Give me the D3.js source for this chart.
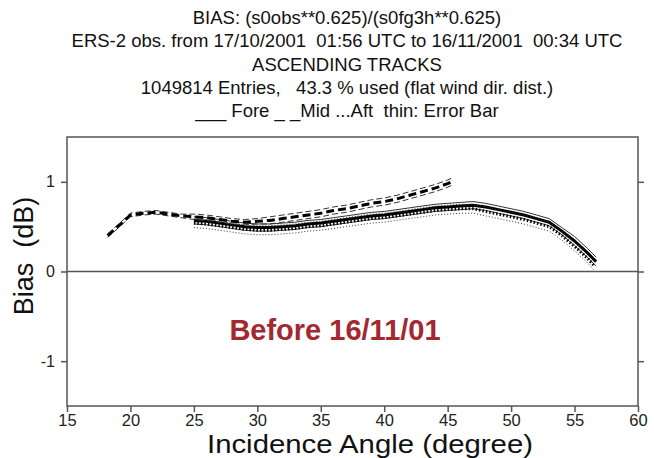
<!DOCTYPE html>
<html>
<head>
<meta charset="utf-8">
<script src="https://cdn.jsdelivr.net/npm/d3@7/dist/d3.min.js"></script>
<style>
  html, body { margin: 0; padding: 0; background: #fff; }
  svg { display: block; font-family: "Liberation Sans", Arial, Helvetica, sans-serif; }
</style>
</head>
<body>
<svg id="chart" width="654" height="458"></svg>
<script>
// Title block
const titleLines = [
  "BIAS: (s0obs**0.625)/(s0fg3h**0.625)",
  "ERS-2 obs. from 17/10/2001\u00a0\u00a001:56 UTC to 16/11/2001\u00a0\u00a000:34 UTC",
  "ASCENDING TRACKS",
  "1049814 Entries,\u00a0\u00a0\u00a043.3 % used (flat wind dir. dist.)",
  "___ Fore _ _Mid ...Aft\u00a0\u00a0thin: Error Bar"
];

// Axis ticks
const xTicks = [15, 20, 25, 30, 35, 40, 45, 50, 55, 60];
const yTicks = [-1, 0, 1];

// Fore beam (solid)
const foreAngle = [25, 26, 27, 28, 29, 30, 31, 32, 33, 34, 35, 36, 37, 38, 39, 40, 41, 42, 43, 44, 45, 46, 47, 48, 49, 50, 51, 52, 53, 54, 55, 56, 56.7];
const foreBias  = [0.57, 0.56, 0.54, 0.52, 0.50, 0.49, 0.49, 0.50, 0.51, 0.53, 0.54, 0.56, 0.58, 0.60, 0.62, 0.63, 0.65, 0.67, 0.69, 0.71, 0.72, 0.73, 0.74, 0.72, 0.69, 0.66, 0.63, 0.59, 0.55, 0.45, 0.34, 0.21, 0.11];
const foreErr   = [0.04, 0.04, 0.04, 0.04, 0.04, 0.04, 0.04, 0.04, 0.04, 0.04, 0.04, 0.04, 0.04, 0.04, 0.04, 0.04, 0.04, 0.04, 0.04, 0.04, 0.04, 0.04, 0.04, 0.04, 0.04, 0.04, 0.04, 0.04, 0.04, 0.04, 0.05, 0.05, 0.05];

// Mid beam (dashed)
const midAngle = [18.2, 19, 20, 21, 22, 23, 24, 25, 26, 27, 28, 29, 30, 31, 32, 33, 34, 35, 36, 37, 38, 39, 40, 41, 42, 43, 44, 45, 45.3];
const midBias  = [0.40, 0.50, 0.63, 0.65, 0.66, 0.64, 0.62, 0.61, 0.60, 0.58, 0.56, 0.55, 0.56, 0.57, 0.59, 0.61, 0.63, 0.65, 0.68, 0.70, 0.73, 0.76, 0.78, 0.81, 0.85, 0.89, 0.93, 0.98, 1.00];
const midErr   = [0.02, 0.02, 0.02, 0.02, 0.02, 0.02, 0.02, 0.03, 0.03, 0.03, 0.03, 0.03, 0.03, 0.04, 0.04, 0.04, 0.04, 0.04, 0.04, 0.04, 0.04, 0.04, 0.04, 0.04, 0.04, 0.04, 0.04, 0.04, 0.04];

// Aft beam (dotted)
const aftAngle = [25, 26, 27, 28, 29, 30, 31, 32, 33, 34, 35, 36, 37, 38, 39, 40, 41, 42, 43, 44, 45, 46, 47, 48, 49, 50, 51, 52, 53, 54, 55, 56, 56.5];
const aftBias  = [0.54, 0.53, 0.51, 0.49, 0.47, 0.46, 0.46, 0.47, 0.48, 0.50, 0.51, 0.53, 0.55, 0.57, 0.59, 0.60, 0.62, 0.64, 0.66, 0.68, 0.69, 0.70, 0.70, 0.67, 0.64, 0.61, 0.58, 0.54, 0.50, 0.40, 0.28, 0.15, 0.07];
const aftErr   = [0.05, 0.05, 0.05, 0.05, 0.05, 0.05, 0.05, 0.05, 0.05, 0.05, 0.05, 0.05, 0.05, 0.05, 0.05, 0.05, 0.05, 0.05, 0.05, 0.05, 0.05, 0.05, 0.05, 0.05, 0.05, 0.05, 0.05, 0.05, 0.05, 0.05, 0.05, 0.05, 0.05];

const svg = d3.select("#chart");
const frame = { left: 67, right: 638, top: 137, bottom: 406 };

const x = d3.scaleLinear().domain([15, 60]).range([frame.left, frame.right]);
const y = d3.scaleLinear().domain([-1.5, 1.5]).range([frame.bottom, frame.top]);

const axisColor = "#555";

// Titles
svg.append("g").selectAll("text").data(titleLines).join("text")
  .attr("x", 347)
  .attr("y", (d, i) => 24 + i * 23.3)
  .attr("text-anchor", "middle")
  .attr("font-size", 18.5)
  .attr("fill", "#111")
  .text(d => d);

// Zero line
svg.append("line")
  .attr("x1", x(15)).attr("x2", x(60))
  .attr("y1", y(0)).attr("y2", y(0))
  .attr("stroke", axisColor).attr("stroke-width", 1.5);

// Series: thick line for the mean bias, thin lines for the error bar
const series = [
  { a: foreAngle, b: foreBias, e: foreErr, dash: null, w: 3 },
  { a: midAngle,  b: midBias,  e: midErr,  dash: "8,4", thinDash: "6,3", w: 3 },
  { a: aftAngle,  b: aftBias,  e: aftErr,  dash: "1.5,2", thinDash: "1,2", w: 3 }
];

const line = d3.line().x(d => x(d[0])).y(d => y(d[1])).curve(d3.curveLinear);

const gLines = svg.append("g").attr("fill", "none").attr("stroke-linejoin", "round");
series.forEach(s => {
  const main = s.a.map((a, i) => [a, s.b[i]]);
  const up = s.a.map((a, i) => [a, s.b[i] + s.e[i]]);
  const lo = s.a.map((a, i) => [a, s.b[i] - s.e[i]]);
  [up, lo].forEach(pts => {
    gLines.append("path")
      .attr("d", line(pts))
      .attr("stroke", "#333")
      .attr("stroke-width", 1)
      .attr("stroke-dasharray", s.thinDash || s.dash);
  });
  gLines.append("path")
    .attr("d", line(main))
    .attr("stroke", "#000")
    .attr("stroke-width", s.w)
    .attr("stroke-dasharray", s.dash);
});

// Frame
svg.append("rect")
  .attr("x", frame.left).attr("y", frame.top)
  .attr("width", frame.right - frame.left).attr("height", frame.bottom - frame.top)
  .attr("fill", "none").attr("stroke", axisColor).attr("stroke-width", 1.5);

// Axes
const xAxis = svg.append("g")
  .attr("transform", `translate(0,${frame.bottom})`)
  .call(d3.axisBottom(x).tickValues(xTicks).tickSize(6).tickPadding(2).tickFormat(d => String(d)));
const yAxis = svg.append("g")
  .attr("transform", `translate(${frame.left},0)`)
  .call(d3.axisLeft(y).tickValues(yTicks).tickSize(6).tickPadding(6).tickFormat(d => String(d)));
const yAxisR = svg.append("g")
  .attr("transform", `translate(${frame.right},0)`)
  .call(d3.axisRight(y).tickValues(yTicks).tickSize(6).tickFormat(""));

[xAxis, yAxis, yAxisR].forEach(g => {
  g.select(".domain").remove();
  g.selectAll(".tick line").attr("stroke", axisColor).attr("stroke-width", 1.5);
  g.selectAll(".tick text")
    .attr("font-family", "'Liberation Sans', Arial, sans-serif")
    .attr("font-size", 16.5).attr("fill", "#222");
});
yAxis.selectAll(".tick text").attr("font-size", 16);

// Axis titles
svg.append("text")
  .attr("x", 370).attr("y", 453)
  .attr("text-anchor", "middle")
  .attr("font-size", 26).attr("fill", "#111")
  .attr("textLength", 326).attr("lengthAdjust", "spacingAndGlyphs")
  .text("Incidence Angle (degree)");

svg.append("text")
  .attr("transform", "translate(33,256) rotate(-90)")
  .attr("text-anchor", "middle")
  .attr("font-size", 27).attr("fill", "#111")
  .text("Bias\u00a0\u00a0(dB)");

// Annotation
svg.append("text")
  .attr("x", 335).attr("y", 340)
  .attr("text-anchor", "middle")
  .attr("font-size", 29).attr("font-weight", "bold")
  .attr("fill", "#a3282f")
  .text("Before 16/11/01");
</script>
</body>
</html>
